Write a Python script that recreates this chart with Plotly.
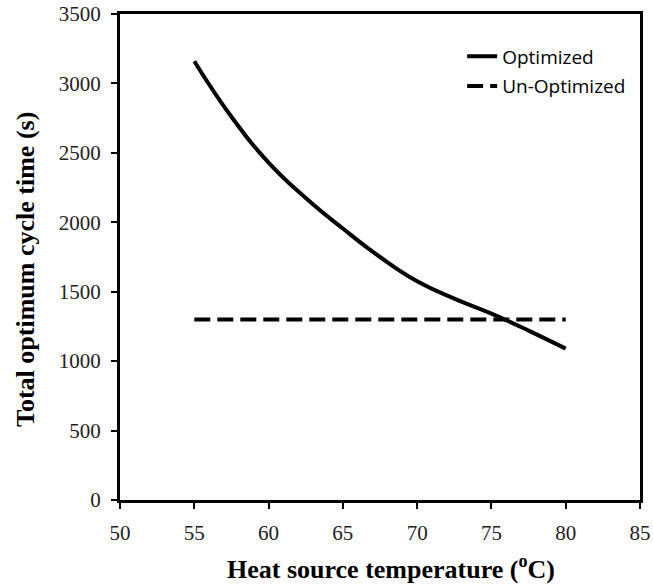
import plotly.graph_objects as go

temp_opt = [55, 57.5, 60, 62.5, 65, 67.5, 70, 72.5, 75, 77.5, 80]
time_opt = [3160, 2760, 2430, 2175, 1955, 1750, 1575, 1450, 1342, 1220, 1090]
temp_unopt = [55, 80]
time_unopt = [1300, 1300]
x_ticks = [50, 55, 60, 65, 70, 75, 80, 85]
y_ticks = [0, 500, 1000, 1500, 2000, 2500, 3000, 3500]

fig = go.Figure()
fig.add_trace(go.Scatter(x=temp_opt, y=time_opt, mode="lines", name="Optimized",
                         legendgroup="a",
                         line=dict(color="black", width=4, shape="spline", smoothing=1.3)))
fig.add_trace(go.Scatter(x=temp_unopt, y=time_unopt, mode="lines", name="Un-Optimized",
                         legendgroup="b",
                         line=dict(color="black", width=4, dash="16px,7px")))

axis_common = dict(showgrid=False, zeroline=False, showline=True, linecolor="black",
                   linewidth=3, mirror=True, ticks="outside", ticklen=6, tickwidth=2,
                   tickcolor="black", automargin=False, ticklabelstandoff=6,
                   tickfont=dict(family="Liberation Serif", size=21, color="#222"))

fig.update_xaxes(range=[50, 85], tickvals=x_ticks, **axis_common)
fig.update_yaxes(range=[0, 3500], tickvals=y_ticks, **axis_common)

title_font = dict(family="Liberation Serif", size=26, color="black")
fig.add_annotation(text="<b>Heat source temperature (<sup>o</sup>C)</b>",
                   xref="paper", yref="paper", x=0.521, y=-0.138,
                   xanchor="center", yanchor="middle", showarrow=False, font=title_font)
fig.add_annotation(text="<b>Total optimum cycle time (s)</b>", textangle=-90,
                   xref="paper", yref="paper", x=-0.183, y=0.475,
                   xanchor="center", yanchor="middle", showarrow=False, font=title_font)

fig.update_layout(
    width=653, height=584,
    margin=dict(l=120, r=13, t=14, b=84),
    paper_bgcolor="white", plot_bgcolor="white",
    showlegend=True,
    legend=dict(x=0.658, y=0.952, xanchor="left", yanchor="top",
                font=dict(family="Open Sans", size=19, color="black"),
                bgcolor="rgba(0,0,0,0)", itemwidth=30, tracegroupgap=2),
)

fig.write_html("out.html")
